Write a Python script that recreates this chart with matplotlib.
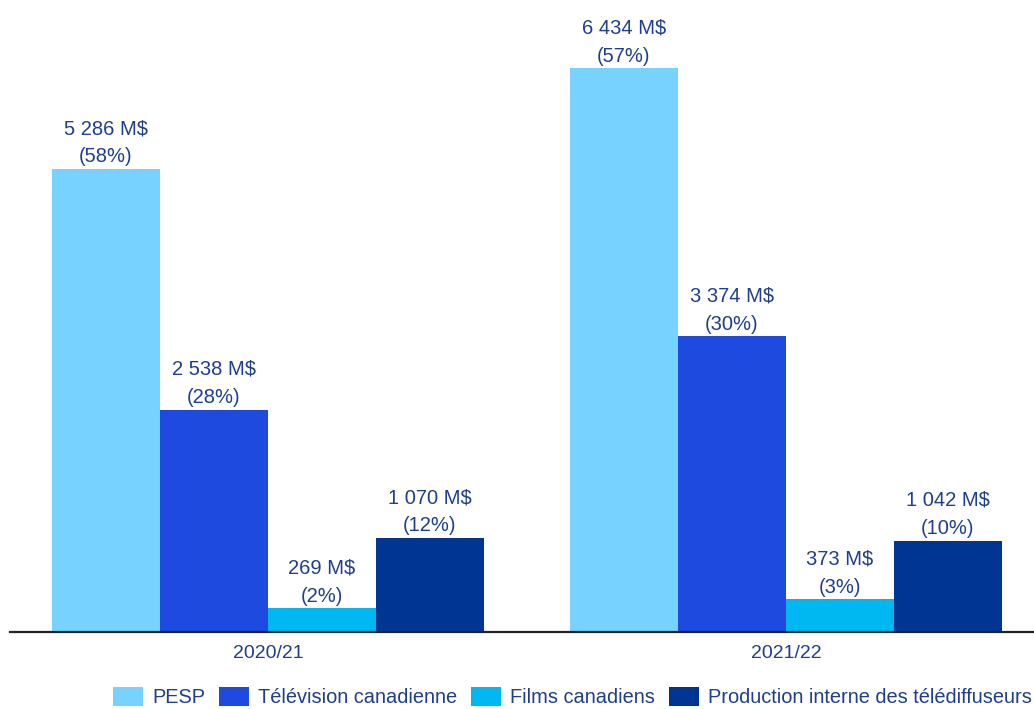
import numpy as np
import matplotlib.pyplot as plt
from matplotlib.patches import Patch

plt.rcParams['font.family'] = ['Liberation Sans', 'DejaVu Sans']

# Données : dépenses par segment (M$) et part du total
years = ['2020/21', '2021/22']
segments = ['PESP', 'Télévision canadienne', 'Films canadiens',
            'Production interne des télédiffuseurs']
pesp = [5286, 6434]
tele = [2538, 3374]
films = [269, 373]
interne = [1070, 1042]
pesp_pct = [58, 57]
tele_pct = [28, 30]
films_pct = [2, 3]
interne_pct = [12, 10]

colors = ['#78D2FF', '#1F4AE0', '#00B8F1', '#003593']
text_color = '#1E3F8E'

series = [pesp, tele, films, interne]
shares = [pesp_pct, tele_pct, films_pct, interne_pct]

fig = plt.figure(figsize=(10.34, 7.09), dpi=100)
ax = fig.add_axes([0.0097, 0.1086, 0.9903, 0.8914])

x = np.arange(len(years))
width = 0.2085
offsets = [-1.5, -0.5, 0.5, 1.5]

def fmt(v):
    return f'{v:,}'.replace(',', ' ') + ' M$'

for vals, pcts, col, off in zip(series, shares, colors, offsets):
    bars = ax.bar(x + off * width, vals, width, color=col, linewidth=0)
    for b, v, p in zip(bars, vals, pcts):
        ax.annotate(f'{fmt(v)}\n({p}%)', (b.get_x() + b.get_width() / 2, v),
                    xytext=(0, 2), textcoords='offset points',
                    ha='center', va='bottom', fontsize=14.5,
                    color=text_color, linespacing=1.6)

ax.set_xlim(-0.498, 1.479)
ax.set_ylim(0, 7215)
ax.set_yticks([])
ax.set_xticks(x)
ax.set_xticklabels(years, fontsize=14, color=text_color)
ax.tick_params(axis='x', length=0, pad=9)
for s in ['top', 'right', 'left']:
    ax.spines[s].set_visible(False)
ax.spines['bottom'].set_color('#222222')
ax.spines['bottom'].set_linewidth(1.6)

handles = [Patch(facecolor=c, edgecolor='none') for c in colors]
fig.legend(handles, segments, loc='center left', bbox_to_anchor=(0.1093, 0.017),
           ncol=4, frameon=False, fontsize=14.4, handlelength=1.5,
           handleheight=1.1, handletextpad=0.45, columnspacing=0.7,
           borderpad=0, borderaxespad=0, labelcolor=text_color)

fig.savefig('out.png', dpi=100)
